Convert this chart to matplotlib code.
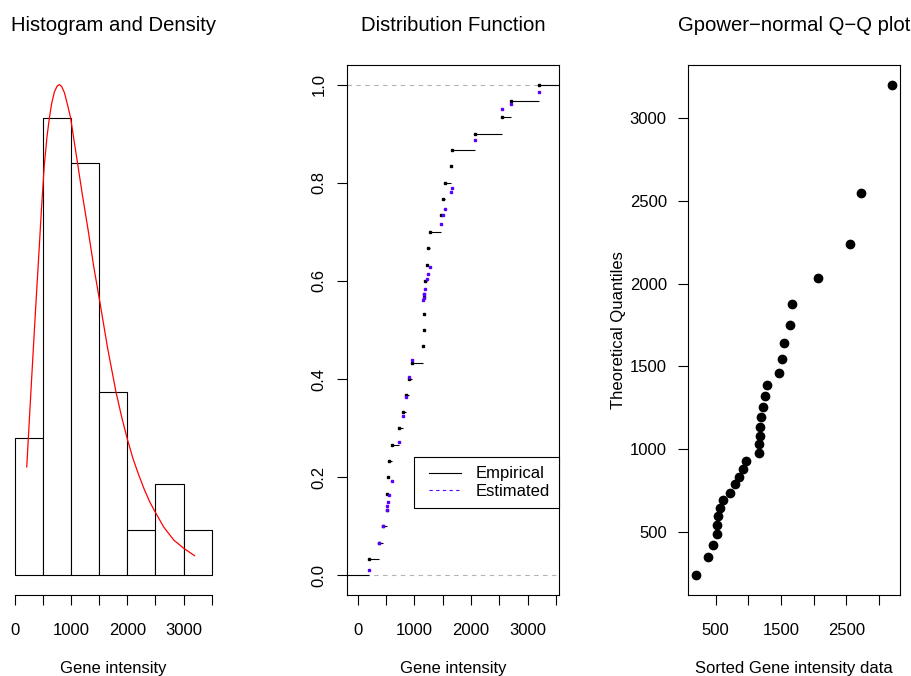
import numpy as np
import matplotlib.pyplot as plt
from matplotlib.lines import Line2D
from matplotlib.legend_handler import HandlerLine2D

plt.rcParams['font.family'] = ['Liberation Sans', 'DejaVu Sans']
plt.rcParams['font.size'] = 12

# sorted gene intensity data (x of the Q-Q plot)
gene = [200, 378, 454, 515, 525, 536, 561, 607, 724, 795, 851, 912, 963,
        1157, 1167, 1177, 1177, 1197, 1228, 1248, 1279, 1462, 1513, 1539,
        1641, 1661, 2063, 2552, 2715, 3199]
# theoretical Gpower-normal quantiles
theo_q = [239, 349, 425, 487, 545, 595, 647, 696, 739, 789, 834, 881, 929,
          978, 1030, 1082, 1136, 1194, 1254, 1319, 1388, 1463, 1547, 1640,
          1750, 1875, 2032, 2237, 2545, 3200]
# estimated distribution function at the data points
est_cdf = [0.010, 0.066, 0.101, 0.134, 0.142, 0.149, 0.163, 0.192, 0.271,
           0.324, 0.363, 0.405, 0.439, 0.562, 0.566, 0.573, 0.573, 0.584,
           0.603, 0.614, 0.628, 0.716, 0.734, 0.747, 0.781, 0.789, 0.887,
           0.950, 0.961, 0.984]
bins = [0, 500, 1000, 1500, 2000, 2500, 3000, 3500]
# fitted density (in count units of the histogram)
dens_x = [208, 250, 300, 360, 430, 470, 520, 570, 612, 650, 700, 750, 791,
          830, 880, 940, 988, 1050, 1113, 1200, 1300, 1400, 1506, 1650, 1798,
          1900, 2005, 2100, 2200, 2300, 2400, 2506, 2650, 2827, 3005, 3196]
dens_y = [2.37, 3.3, 4.4, 5.7, 7.15, 8.0, 8.95, 9.6, 10.0, 10.3, 10.56, 10.69,
          10.72, 10.68, 10.54, 10.25, 10.0, 9.5, 9.0, 8.3, 7.55, 6.75, 6.0,
          4.95, 4.0, 3.45, 2.95, 2.55, 2.2, 1.88, 1.6, 1.36, 1.05, 0.77,
          0.59, 0.43]

W, Hpx = 912, 676
fig = plt.figure(figsize=(W / 100, Hpx / 100), dpi=100)
bot = 81 / Hpx
hgt = 530 / Hpx
lw = 0.8
blue = '#5a00ff'

def style(ax):
    for s in ax.spines.values():
        s.set_linewidth(lw)
    ax.tick_params(length=7.5, width=lw, labelsize=12)
    ax.tick_params(axis='x', pad=13)

# --- panel 1: histogram and density
ax1 = fig.add_axes([7.2 / W, bot, 212.3 / W, hgt])
ax1.hist(gene, bins=bins, color='white', edgecolor='black', linewidth=lw)
ax1.plot(dens_x, dens_y, color='red', lw=0.9)
ymax = max(dens_y)
ax1.set_ylim(-0.04 * ymax, 1.04 * ymax)
ax1.set_xlim(-140, 3640)
for s in ['left', 'right', 'top']:
    ax1.spines[s].set_visible(False)
ax1.spines['bottom'].set_bounds(0, 3500)
ax1.set_yticks([])
style(ax1)
ax1.set_xticks(bins)
ax1.set_xticklabels([str(b) if b % 1000 == 0 else '' for b in bins])

# --- panel 2: distribution function
ax2 = fig.add_axes([347.3 / W, bot, 212 / W, hgt])
x_lo, x_hi = -184, 3560
n = len(gene)
steps = np.arange(1, n + 1) / n
ax2.axhline(0, color='#b3b3b3', ls=(0, (4, 4)), lw=lw)
ax2.axhline(1, color='#b3b3b3', ls=(0, (4, 4)), lw=lw)
ax2.hlines([0], [x_lo], [gene[0]], color='black', lw=lw)
ax2.hlines(steps, gene, gene[1:] + [x_hi], color='black', lw=lw)
ax2.plot(gene, steps, 's', ms=1.5, color='black')
ax2.plot(gene, est_cdf, 's', ms=1.5, color=blue)
ax2.set_xlim(x_lo, x_hi)
ax2.set_ylim(-0.04, 1.04)
style(ax2)
ax2.set_xticks(bins)
ax2.set_xticklabels([str(b) if b % 1000 == 0 else '' for b in bins])
ax2.set_yticks([0, 0.2, 0.4, 0.6, 0.8, 1.0])
ax2.set_yticklabels(['0.0', '0.2', '0.4', '0.6', '0.8', '1.0'],
                    rotation=90, va='center')
ax2.tick_params(axis='y', pad=7.5)
handles = [Line2D([], [], color='black', lw=lw),
           Line2D([], [], color=blue, lw=lw, ls=(0, (3, 3)))]
leg = ax2.legend(handles, ['Empirical', 'Estimated'], loc='lower right',
                 bbox_to_anchor=(1, 0.164), borderaxespad=0, fancybox=False,
                 edgecolor='black', framealpha=1, fontsize=12,
                 handlelength=2.25, handletextpad=0.9, borderpad=0.55,
                 labelspacing=0.15,
                 handler_map={Line2D: HandlerLine2D(xpad=0.35)})
leg.get_frame().set_linewidth(lw)

# --- panel 3: Q-Q plot
ax3 = fig.add_axes([688.3 / W, bot, 211.7 / W, hgt])
ax3.plot(gene, theo_q, 'o', ms=6, color='black')
xr = max(gene) - min(gene)
yr = max(theo_q) - min(theo_q)
ax3.set_xlim(min(gene) - 0.04 * xr, max(gene) + 0.04 * xr)
ax3.set_ylim(min(theo_q) - 0.04 * yr, max(theo_q) + 0.04 * yr)
style(ax3)
qt = [500, 1000, 1500, 2000, 2500, 3000]
ax3.set_xticks(qt)
ax3.set_xticklabels(['500', '', '1500', '', '2500', ''])
ax3.set_yticks(qt)
ax3.set_yticklabels([str(v) for v in qt])
ax3.tick_params(axis='y', pad=8)

# titles and axis labels
for ax, title, xl in [(ax1, 'Histogram and Density', 'Gene intensity'),
                      (ax2, 'Distribution Function', 'Gene intensity'),
                      (ax3, 'Gpower\u2212normal Q\u2212Q plot',
                       'Sorted Gene intensity data')]:
    p = ax.get_position()
    cx = (p.x0 + p.x1) / 2
    fig.text(cx, (Hpx - 31) / Hpx, title, ha='center', va='baseline',
             fontsize=14.6)
    fig.text(cx, (Hpx - 672.7) / Hpx, xl, ha='center', va='baseline',
             fontsize=12)
fig.text(618 / W, bot + hgt / 2, 'Theoretical Quantiles', rotation=90,
         ha='center', va='center', fontsize=12)

fig.savefig('out.png', dpi=100)
